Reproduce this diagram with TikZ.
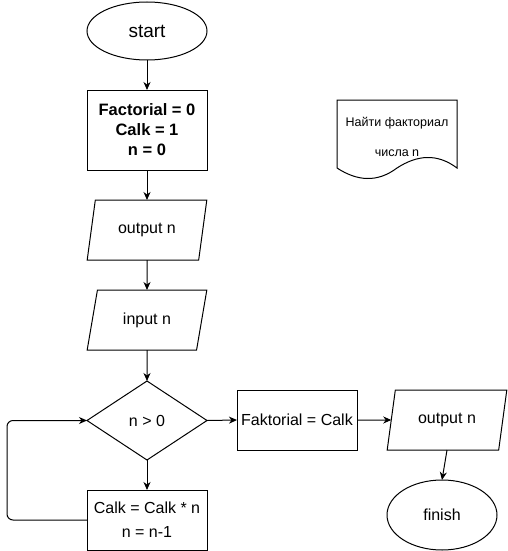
\documentclass[tikz,border=0pt]{standalone}
\usepackage{fontspec}
\setmainfont{Liberation Sans}
\usetikzlibrary{shapes.geometric,arrows.meta}
\begin{document}
\begin{tikzpicture}[x=1pt,y=-1pt,
  base/.style={draw=black,line width=1pt,inner sep=0pt,outer sep=0pt,align=center,font=\fontsize{16}{20}\selectfont},
  term/.style={base,ellipse},
  proc/.style={base,rectangle},
  io/.style={base,trapezium,trapezium left angle=71.57,trapezium right angle=108.43,trapezium stretches=true,minimum width=120pt,minimum height=60pt},
  arr/.style={line width=1pt,-{Stealth[length=8pt,width=7pt,inset=2.5pt]}}
]
\useasboundingbox (0,0) rectangle (508,551);
\node[term,minimum width=120pt,minimum height=58pt,font=\fontsize{19}{22}\selectfont] (start) at (147,31) {start};
\node[proc,minimum width=120pt,minimum height=80pt,font=\bfseries\fontsize{16.5}{20}\selectfont] (init) at (147,130) {Factorial = 0\\Calk = 1\\n = 0};
\node[io] (out1) at (147,230) {output n};
\node[io] (inp) at (147,320) {input n};
\node[base,diamond,aspect=1.52,minimum width=120pt,minimum height=79pt] (cond) at (147,420.5) {n > 0};
\node[proc,minimum width=120pt,minimum height=60pt,font=\fontsize{16}{24}\selectfont] (body) at (147,520) {Calk = Calk * n\\n = n-1};
\node[proc,minimum width=120pt,minimum height=60pt] (fak) at (297,420) {Faktorial = Calk};
\node[io] (out2) at (447,420) {output n};
\node[term,minimum width=110pt,minimum height=70pt] (finish) at (442,515) {finish};

\draw[line width=1pt] (337,168) -- (337,100) -- (457,100) -- (457,168)
  .. controls (437,153) and (417,155) .. (397,168)
  .. controls (377,183) and (357,181) .. (337,168) -- cycle;
\node[inner sep=0pt,align=center,font=\fontsize{12.5}{30}\selectfont] (note) at (397,137) {Найти факториал\\числа n};

\draw[arr] (start) -- (init);
\draw[arr] (init) -- (out1);
\draw[arr] (out1) -- (inp);
\draw[arr] (inp) -- (cond);
\draw[arr] (cond) -- (body);
\draw[arr] (cond.east) -- (fak.west);
\draw[arr] (fak.east) -- (out2.west);
\draw[arr] (out2.south) -- (finish.north);
\draw[arr,rounded corners=6pt] (body.west) -- ++(-80,0) |- (cond.west);
\end{tikzpicture}
\end{document}
